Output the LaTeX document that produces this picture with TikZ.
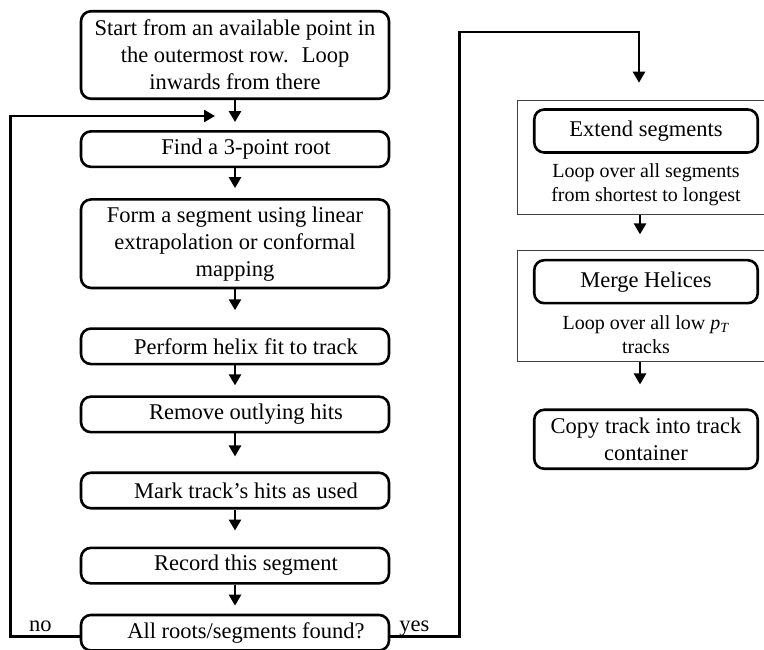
\documentclass[tikz,border=0pt]{standalone}
\usepackage{fontspec}
\setmainfont{Liberation Serif}
\usetikzlibrary{positioning, arrows.meta, fit, calc}

\tikzset{
  stepbox/.style={draw, rectangle, rounded corners=10pt, line width=2.6pt,
    minimum width=308pt, minimum height=35.5pt, inner sep=4pt, align=center,
    font=\fontsize{22.5}{27}\selectfont},
  sidebox/.style={stepbox, minimum width=223.5pt, minimum height=43pt},
  looptext/.style={align=center, inner sep=0pt, font=\fontsize{20}{24}\selectfont},
  loopframe/.style={draw=black!75, line width=1pt, inner xsep=15pt, inner ysep=8pt},
  flow/.style={line width=2.6pt, -{Triangle[length=11pt,width=12pt]}},
  answer/.style={font=\fontsize{22.5}{27}\selectfont, inner sep=0pt, text depth=0pt}
}

\begin{document}
\begin{tikzpicture}[x=1pt, y=-1pt]
\useasboundingbox (0,0) rectangle (764,650);

% main loop
\node[stepbox, minimum height=87.5pt] (start) at (235,55) {Start from an available point in\\the outermost row.~ Loop\\inwards from there};
\node[stepbox] (root) [below=30pt of start] {\hspace*{22pt}Find a 3-point root};
\node[stepbox, minimum height=88.5pt] (form) [below=30pt of root] {Form a segment using linear\\extrapolation or conformal\\mapping};
\node[stepbox] (helix) [below=38pt of form] {\hspace*{22pt}Perform helix fit to track};
\node[stepbox] (outlying) [below=30pt of helix] {\hspace*{22pt}Remove outlying hits};
\node[stepbox] (mark) [below=38pt of outlying] {\hspace*{22pt}Mark track's hits as used};
\node[stepbox] (record) [below=37pt of mark] {\hspace*{22pt}Record this segment};
\node[stepbox] (all) [below=29pt of record] {\hspace*{22pt}All roots/segments found?};

\draw[flow, shorten >=8pt] (start) -- (root);
\draw[flow, shorten >=10pt] (root) -- (form);
\draw[flow, shorten >=17pt] (form) -- (helix);
\draw[flow, shorten >=10pt] (helix) -- (outlying);
\draw[flow, shorten >=15pt] (outlying) -- (mark);
\draw[flow, shorten >=16pt] (mark) -- (record);
\draw[flow, shorten >=8pt] (record) -- (all);

% second stage
\node[sidebox] (extend) at (646,131) {Extend segments};
\node[looptext] (extend loop) [below=10pt of extend] {Loop over all segments\\from shortest to longest};
\node[loopframe, fit=(extend)(extend loop)] (extend frame) {};

\node[sidebox] (merge) [below=44pt of extend frame] {Merge Helices};
\node[looptext] (merge loop) [below=11pt of merge] {Loop over all low \textit{p}\textsubscript{\textit{T}}\\tracks};
\node[loopframe, fit=(merge)(merge loop)] (merge frame) {};

\node[sidebox, minimum height=59pt] (copy) [below=46pt of merge frame] {Copy track into track\\container};

\draw[flow, shorten >=16pt] ([xshift=-6pt]extend frame.south) -- ([xshift=-6pt]merge frame.north);
\draw[flow, shorten >=24pt] ([xshift=-6pt]merge frame.south) -- ([xshift=-6pt]copy.north);

% decision
\coordinate (back) at (215,116);
\coordinate (turn) at (639,32);
\draw[flow] ([yshift=-4pt]all.west) -- node[answer, above=3.5pt, pos=0.57] {no} ++(-69,0) |- (back);
\draw[flow, shorten >=17pt] ([yshift=-4pt]all.east) -- node[answer, above=3.5pt, pos=0.35] {yes} ++(69,0) |- (turn) -- (turn |- extend frame.north);
\end{tikzpicture}
\end{document}
